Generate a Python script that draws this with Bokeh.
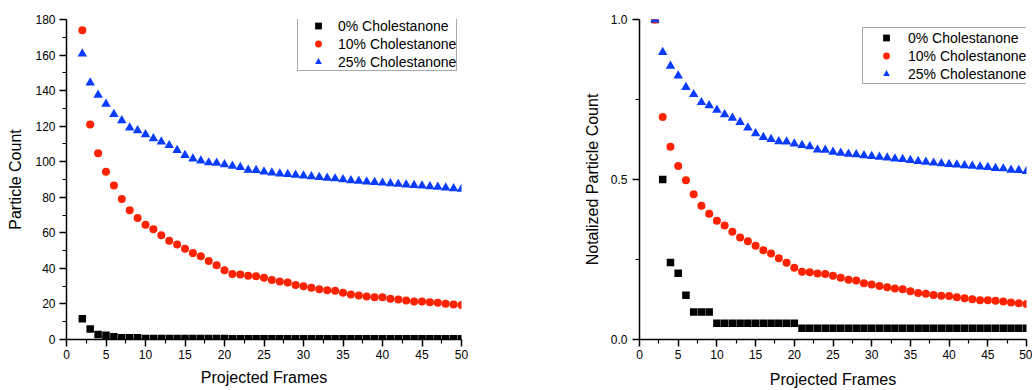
from bokeh.plotting import figure
from bokeh.layouts import row
from bokeh.models import Range1d, FixedTicker, Legend, LegendItem, PrintfTickFormatter
from bokeh.embed import file_html
from bokeh.resources import INLINE

# ---------------- data ----------------
frames = list(range(2, 51))

series_names = ["0% Cholestanone", "10% Cholestanone", "25% Cholestanone"]

count_0 = [11.7, 5.85, 2.82, 2.42, 1.61, 1.0, 1.0, 1.0,
           0.6, 0.6, 0.6, 0.6, 0.6, 0.6, 0.6, 0.6, 0.6, 0.6, 0.6,
           0.41, 0.41, 0.41, 0.41, 0.41, 0.41, 0.41, 0.41, 0.41, 0.41,
           0.41, 0.41, 0.41, 0.41, 0.41, 0.41, 0.41, 0.41, 0.41, 0.41,
           0.41, 0.41, 0.41, 0.41, 0.41, 0.41, 0.41, 0.41, 0.41, 0.41]
count_10 = [174, 120.9, 104.7, 94.3, 86.6, 79.0, 72.7, 68.4, 64.5, 62.0,
            58.7, 55.5, 53.4, 51.0, 48.6, 46.8, 44.2, 41.7, 38.9, 36.9,
            36.5, 35.9, 35.6, 34.7, 33.5, 32.6, 32.1, 30.7, 29.9, 29.1,
            28.3, 27.7, 27.4, 26.3, 25.3, 24.8, 24.2, 23.8, 23.7, 22.9,
            22.5, 22.0, 21.4, 21.4, 21.0, 20.7, 20.1, 19.7, 19.4]
count_25 = [160.8, 144.4, 137.5, 132.5, 126.7, 123.2, 119.1, 117.6, 115.3, 113.1,
            111.2, 109.2, 106.4, 103.6, 101.7, 100.6, 99.5, 99.3, 98.4, 97.6,
            96.9, 95.4, 95.2, 94.3, 93.8, 93.3, 92.9, 92.5, 92.1, 91.7,
            91.3, 90.9, 90.5, 90.0, 89.5, 89.2, 88.8, 88.5, 88.1, 87.8,
            87.4, 87.1, 86.8, 86.5, 86.1, 85.8, 85.3, 85.0, 84.6]

norm_0 = [1.0, 0.5, 0.241, 0.207, 0.138, 0.086, 0.086, 0.086,
          0.051, 0.051, 0.051, 0.051, 0.051, 0.051, 0.051, 0.051, 0.051, 0.051, 0.051,
          0.035, 0.035, 0.035, 0.035, 0.035, 0.035, 0.035, 0.035, 0.035, 0.035,
          0.035, 0.035, 0.035, 0.035, 0.035, 0.035, 0.035, 0.035, 0.035, 0.035,
          0.035, 0.035, 0.035, 0.035, 0.035, 0.035, 0.035, 0.035, 0.035, 0.035]
norm_10 = [1.0, 0.695, 0.602, 0.542, 0.498, 0.454, 0.418, 0.393, 0.371, 0.356,
           0.337, 0.319, 0.307, 0.293, 0.279, 0.269, 0.254, 0.240, 0.224, 0.212,
           0.210, 0.206, 0.205, 0.199, 0.193, 0.187, 0.184, 0.176, 0.172, 0.167,
           0.163, 0.159, 0.157, 0.151, 0.145, 0.143, 0.139, 0.137, 0.136, 0.132,
           0.129, 0.126, 0.123, 0.123, 0.121, 0.119, 0.116, 0.113, 0.111]
norm_25 = [1.0, 0.898, 0.855, 0.824, 0.788, 0.766, 0.741, 0.731, 0.717, 0.703,
           0.692, 0.679, 0.662, 0.644, 0.632, 0.626, 0.619, 0.618, 0.612, 0.607,
           0.603, 0.593, 0.592, 0.586, 0.583, 0.580, 0.578, 0.575, 0.573, 0.570,
           0.568, 0.565, 0.563, 0.560, 0.557, 0.555, 0.552, 0.550, 0.548, 0.546,
           0.544, 0.542, 0.540, 0.538, 0.535, 0.534, 0.530, 0.529, 0.526]

x_ticks = [0, 5, 10, 15, 20, 25, 30, 35, 40, 45, 50]
x_minor = [2.5, 7.5, 12.5, 17.5, 22.5, 27.5, 32.5, 37.5, 42.5, 47.5]
y1_ticks = [0, 20, 40, 60, 80, 100, 120, 140, 160, 180]
y1_minor = [10, 30, 50, 70, 90, 110, 130, 150, 170]
y2_ticks = [0.0, 0.5, 1.0]
y2_minor = [0.25, 0.75]

FONT = "Liberation Sans"
BLACK = "#000000"
RED = "#FF2200"
BLUE = "#0A3CFF"
FIG_H = 390


def style_axis(ax, label_standoff, axis_label_standoff):
    ax.axis_line_width = 1.5
    ax.axis_line_color = BLACK
    ax.major_tick_line_width = 1.5
    ax.minor_tick_line_width = 1.2
    ax.major_tick_line_color = BLACK
    ax.minor_tick_line_color = BLACK
    ax.major_tick_out = 7
    ax.major_tick_in = 0
    ax.minor_tick_out = 4
    ax.minor_tick_in = 0
    ax.major_label_text_font = FONT
    ax.major_label_text_font_size = "12px"
    ax.major_label_text_color = BLACK
    ax.major_label_standoff = label_standoff
    ax.axis_label_text_font = FONT
    ax.axis_label_text_font_size = "16px"
    ax.axis_label_text_font_style = "normal"
    ax.axis_label_text_color = BLACK
    ax.axis_label_standoff = axis_label_standoff


def make_plot(width, border_left, border_right, border_top, border_bottom,
              y_end, y_ticks, y_minor, ylabel, ys, legend_loc, legend_pad,
              glyph_w, y_fmt=None, y_label_standoff=4, y_axis_standoff=8,
              x_axis_standoff=0):
    p = figure(width=width, height=FIG_H, output_backend="svg", toolbar_location=None,
               x_range=Range1d(0, 50), y_range=Range1d(0, y_end),
               min_border_left=border_left, min_border_right=border_right,
               min_border_top=border_top, min_border_bottom=border_bottom)
    p.grid.visible = False
    p.outline_line_color = None
    p.background_fill_color = "white"
    p.border_fill_color = "white"

    p.xaxis.ticker = FixedTicker(ticks=x_ticks, minor_ticks=x_minor)
    p.yaxis.ticker = FixedTicker(ticks=y_ticks, minor_ticks=y_minor)
    if y_fmt is not None:
        p.yaxis.formatter = y_fmt
    p.xaxis.axis_label = "Projected Frames"
    p.yaxis.axis_label = ylabel
    for ax in p.xaxis:
        style_axis(ax, 3, x_axis_standoff)
    for ax in p.yaxis:
        style_axis(ax, y_label_standoff, y_axis_standoff)

    r0 = p.scatter(frames, ys[0], marker="square", size=7.5, fill_color=BLACK, line_color=None)
    r1 = p.scatter(frames, ys[1], marker="circle", size=8, fill_color=RED, line_color=None)
    r2 = p.scatter(frames, ys[2], marker="triangle", size=9.5, fill_color=BLUE, line_color=None)

    legend = Legend(items=[LegendItem(label=series_names[0], renderers=[r0]),
                           LegendItem(label=series_names[1], renderers=[r1]),
                           LegendItem(label=series_names[2], renderers=[r2])],
                    location=legend_loc)
    legend.label_text_font = FONT
    legend.label_text_font_size = "14px"
    legend.label_text_color = BLACK
    legend.glyph_height = 17
    legend.label_height = 17
    legend.glyph_width = glyph_w
    legend.label_standoff = 0
    legend.spacing = 1
    legend.padding = legend_pad
    legend.margin = 0
    legend.border_line_color = "#555555"
    legend.border_line_width = 1
    legend.background_fill_color = "white"
    legend.background_fill_alpha = 1.0
    p.add_layout(legend, "center")
    return p


# left: frame x 66..461, y 19..341 ; right: frame x 635..1026, y 18..339
p1 = make_plot(580, 66, 119, 19, FIG_H - 19 - 322, 180, y1_ticks, y1_minor, "Particle Count",
               [count_0, count_10, count_25], (231, 268), 0, 40,
               y_label_standoff=4, y_axis_standoff=8, x_axis_standoff=7)
p2 = make_plot(452, 55, 6, 18, FIG_H - 18 - 321, 1.0, y2_ticks, y2_minor, "Notalized Particle Count",
               [norm_0, norm_10, norm_25], (223, 255), 1, 44,
               y_fmt=PrintfTickFormatter(format="%.1f"),
               y_label_standoff=5, y_axis_standoff=7, x_axis_standoff=9)

layout = row(p1, p2)
open("out.html", "w").write(file_html(layout, INLINE))
